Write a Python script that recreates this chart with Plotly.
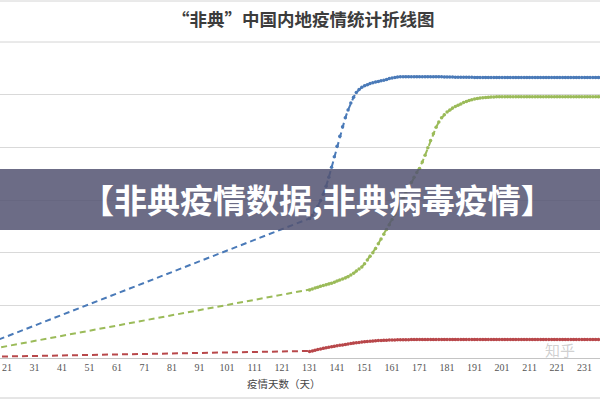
import plotly.graph_objects as go

# ---------------- data ----------------
START_DAY = 1
START_CASES = 5
START_RECOVERED = 30
START_DEATHS = 10

DAILY_DAYS = list(range(131, 241))

CASES = [
    2650, 2710, 2790, 2880, 2990, 3110, 3260, 3430, 3620, 3820,
    4020, 4210, 4390, 4560, 4710, 4840, 4950, 5040, 5100, 5140,
    5170, 5190, 5210, 5225, 5240, 5250, 5262, 5275, 5290, 5305,
    5318, 5328, 5335, 5338, 5340, 5340, 5341, 5341, 5342, 5342,
    5342, 5342, 5342, 5341, 5341, 5340, 5340, 5339, 5338, 5337,
    5336, 5335, 5334, 5333, 5332, 5331, 5330, 5330, 5329, 5329,
    5328, 5328, 5328, 5327, 5327, 5327, 5327, 5327, 5327, 5327,
    5327, 5327, 5327, 5327, 5327, 5327, 5327, 5327, 5327, 5327,
    5327, 5327, 5327, 5327, 5327, 5327, 5327, 5327, 5327, 5327,
    5327, 5327, 5327, 5327, 5327, 5327, 5327, 5327, 5327, 5327,
    5327, 5327, 5327, 5327, 5327, 5327, 5327, 5327, 5327, 5327,
]

RECOVERED = [
    1290, 1310, 1330, 1345, 1360, 1375, 1390, 1405, 1420, 1440,
    1460, 1480, 1500, 1520, 1545, 1575, 1610, 1650, 1690, 1730,
    1790, 1860, 1930, 2000, 2080, 2170, 2260, 2350, 2440, 2530,
    2630, 2730, 2830, 2930, 3030, 3130, 3230, 3330, 3430, 3520,
    3600, 3720, 3850, 3990, 4130, 4260, 4380, 4480, 4560, 4620,
    4670, 4710, 4745, 4775, 4800, 4825, 4850, 4870, 4890, 4905,
    4918, 4928, 4936, 4942, 4947, 4951, 4954, 4957, 4959, 4959,
    4959, 4959, 4959, 4959, 4959, 4959, 4959, 4959, 4959, 4959,
    4959, 4959, 4959, 4959, 4959, 4959, 4959, 4959, 4959, 4959,
    4959, 4959, 4959, 4959, 4959, 4959, 4959, 4959, 4959, 4959,
    4959, 4959, 4959, 4959, 4959, 4959, 4959, 4959, 4959, 4959,
]

DEATHS = [
    125, 135, 148, 160, 172, 183, 193, 203, 213, 222,
    231, 240, 249, 258, 267, 275, 283, 290, 296, 302,
    307, 312, 317, 322, 326, 330, 333, 336, 339, 341,
    343, 344, 345, 346, 347, 348, 348, 349, 349, 349,
    349, 349, 349, 349, 349, 349, 349, 349, 349, 349,
    349, 349, 349, 349, 349, 349, 349, 349, 349, 349,
    349, 349, 349, 349, 349, 349, 349, 349, 349, 349,
    349, 349, 349, 349, 349, 349, 349, 349, 349, 349,
    349, 349, 349, 349, 349, 349, 349, 349, 349, 349,
    349, 349, 349, 349, 349, 349, 349, 349, 349, 349,
    349, 349, 349, 349, 349, 349, 349, 349, 349, 349,
]

TICK_DAYS = [21, 31, 41, 51, 61, 71, 81, 91, 101, 111, 121,
             131, 141, 151, 161, 171, 181, 191, 201, 211, 221, 231]

TITLE = "“非典”中国内地疫情统计折线图"
X_TITLE = "疫情天数（天）"
BANNER = "【非典疫情数据,非典病毒疫情】"

# ---------------- figure ----------------
W, H = 600, 400
T, B = 42, 42
PH = H - T - B  # plot height in px


def py(px_y):
    """convert a page pixel y to paper coordinate"""
    return (H - B - px_y) / PH


fig = go.Figure()

series = [
    (CASES, START_CASES, "#4a7ab8"),
    (RECOVERED, START_RECOVERED, "#9bbb59"),
    (DEATHS, START_DEATHS, "#b8474a"),
]
for vals, start, col in series:
    fig.add_trace(go.Scatter(
        x=[START_DAY] + DAILY_DAYS,
        y=[start] + vals,
        mode="lines+markers",
        line=dict(color=col, width=2, dash="6px,4px"),
        marker=dict(color=col, size=3.5),
        showlegend=False,
        hoverinfo="skip",
    ))

fig.update_layout(
    width=W, height=H,
    margin=dict(l=0, r=0, t=T, b=B),
    paper_bgcolor="white",
    plot_bgcolor="white",
    xaxis=dict(
        range=[18.45, 236.6],
        tickvals=TICK_DAYS,
        ticktext=[str(d) for d in TICK_DAYS],
        showgrid=False,
        zeroline=False,
        showline=True,
        linecolor="#c4c4c4",
        linewidth=1,
        ticks="",
        tickfont=dict(family="Liberation Serif", size=10, color="#555555"),
    ),
    yaxis=dict(
        range=[0, 6000],
        dtick=1000,
        showgrid=True,
        gridcolor="#d9d9d9",
        gridwidth=1,
        zeroline=False,
        showticklabels=False,
        ticks="",
    ),
    shapes=[
        dict(type="line", xref="paper", yref="paper", x0=0, x1=1,
             y0=py(1), y1=py(1), line=dict(color="#d4d4d4", width=1)),
        dict(type="line", xref="paper", yref="paper", x0=0, x1=1,
             y0=py(42), y1=py(42), line=dict(color="#d4d4d4", width=1)),
        dict(type="line", xref="paper", yref="paper", x0=0, x1=1,
             y0=py(398), y1=py(398), line=dict(color="#cccccc", width=1)),
        dict(type="rect", xref="paper", yref="paper", x0=0, x1=1,
             y0=py(230), y1=py(169), fillcolor="rgba(84,84,114,0.86)",
             line=dict(width=0), layer="above"),
    ],
    annotations=[
        dict(text=TITLE, xref="paper", yref="paper", x=303 / W, y=py(18),
             showarrow=False, xanchor="center", yanchor="middle",
             font=dict(family="Noto Sans CJK SC", size=17.5, color="#3c3c3c",
                       weight="bold")),
        dict(text=X_TITLE, xref="paper", yref="paper", x=284 / W, y=py(383),
             showarrow=False, xanchor="center", yanchor="middle",
             font=dict(family="Noto Sans CJK SC", size=10.5, color="#444444")),
        dict(text="知乎", xref="paper", yref="paper", x=560 / W, y=py(349),
             showarrow=False, xanchor="center", yanchor="middle",
             font=dict(family="Noto Sans CJK SC", size=15,
                       color="rgba(150,150,150,0.45)")),
        dict(text=BANNER, xref="paper", yref="paper", x=317 / W, y=py(199),
             showarrow=False, xanchor="center", yanchor="middle",
             font=dict(family="Noto Sans CJK SC", size=33, color="white",
                       weight="bold")),
    ],
)

fig.write_html("out.html")
